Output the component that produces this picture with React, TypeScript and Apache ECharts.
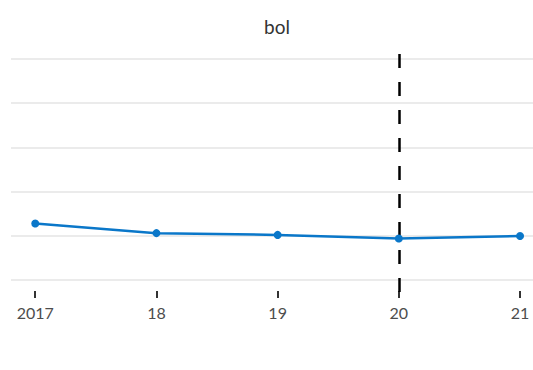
import React, { useEffect, useRef } from "react";
import * as echarts from "echarts";

const years = [2017, 2018, 2019, 2020, 2021];
const tickLabels = ["2017", "18", "19", "20", "21"];
const values = [12.8, 10.6, 10.2, 9.4, 9.95];
const yGridValues = [0, 10, 20, 30, 40, 50];
const markYear = 2020;
const titleText = "bol";

export default function App() {
  const ref = useRef<HTMLDivElement>(null);
  useEffect(() => {
    if (!ref.current) return;
    const chart = echarts.init(ref.current, undefined, { renderer: "svg" });
    const xBase = {
      type: "value" as const,
      min: 2016.8,
      max: 2021.107,
    };
    chart.setOption({
      animation: false,
      backgroundColor: "#ffffff",
      graphic: [
        {
          type: "text",
          x: 277,
          y: 26,
          style: {
            text: titleText,
            fontFamily: "Lato",
            fontSize: 19,
            fill: "#333333",
            textAlign: "center",
            textVerticalAlign: "middle",
          },
        },
      ],
      grid: [
        { left: 11, right: 0, top: 59, height: 221 },
        { left: 11, right: 0, top: 54, height: 244 },
      ],
      xAxis: [
        {
          ...xBase,
          gridIndex: 0,
          show: false,
          splitLine: { show: false },
        },
        {
          ...xBase,
          gridIndex: 1,
          axisLine: { show: false },
          splitLine: { show: false },
          axisTick: {
            show: true,
            inside: true,
            length: 7,
            customValues: years,
            lineStyle: { color: "#333333", width: 2 },
          },
          axisLabel: {
            customValues: years,
            margin: 6,
            fontFamily: "Lato",
            fontSize: 16,
            color: "#4d4d4d",
            formatter: (v: number) => {
              const i = years.indexOf(Math.round(v));
              return i >= 0 ? tickLabels[i] : "";
            },
          },
        },
      ],
      yAxis: [
        {
          type: "value",
          gridIndex: 0,
          min: yGridValues[0],
          max: yGridValues[yGridValues.length - 1],
          interval: 10,
          axisLine: { show: false },
          axisTick: { show: false },
          axisLabel: { show: false },
          splitLine: { show: true, lineStyle: { color: "#ebebeb", width: 2 } },
        },
        {
          type: "value",
          gridIndex: 1,
          min: 0,
          max: 1,
          show: false,
          splitLine: { show: false },
        },
      ],
      series: [
        {
          type: "line",
          xAxisIndex: 1,
          yAxisIndex: 1,
          data: [],
          z: 1,
          markLine: {
            silent: true,
            symbol: "none",
            label: { show: false },
            lineStyle: { color: "#000000", width: 2.5, type: [14, 14] },
            data: [
              [
                { coord: [markYear, 1] },
                { coord: [markYear, 0] },
              ],
            ],
          },
        },
        {
          type: "line",
          xAxisIndex: 0,
          yAxisIndex: 0,
          z: 5,
          data: years.map((y, i) => [y, values[i]]),
          symbol: "circle",
          symbolSize: 8,
          lineStyle: { color: "#0a77c9", width: 2.5 },
          itemStyle: { color: "#0a77c9" },
        },
      ],
    });
    return () => chart.dispose();
  }, []);
  return (
    <div
      ref={ref}
      style={{ position: "fixed", left: 0, top: 0, width: 533, height: 370 }}
    />
  );
}
